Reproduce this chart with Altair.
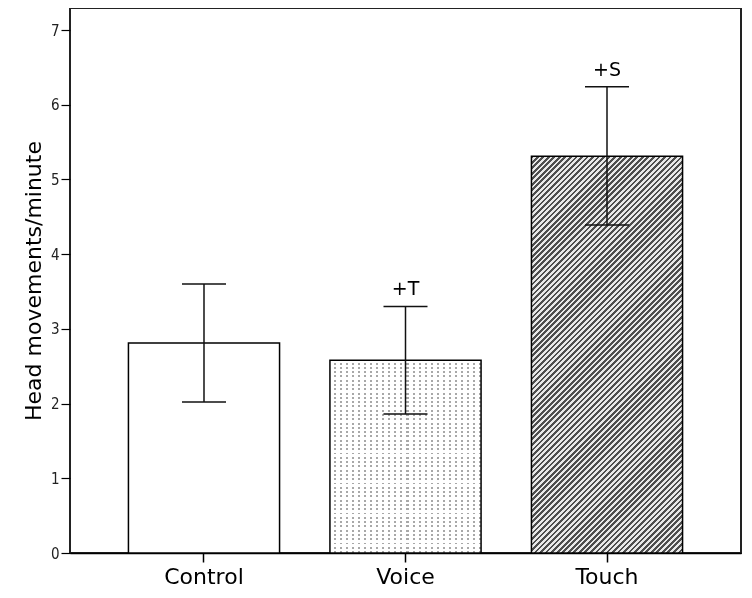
import math
import altair as alt
import pandas as pd

# ---- data ----
groups = ["Control", "Voice", "Touch"]
means = [2.81, 2.58, 5.31]
lower = [2.02, 1.86, 4.39]
upper = [3.60, 3.30, 6.24]
sig_labels = ["", "+T", "+S"]
y_ticks = [0, 1, 2, 3, 4, 5, 6, 7]

df = pd.DataFrame({"group": groups, "mean": means, "lower": lower,
                   "upper": upper, "label": sig_labels})

# ---- layout ----
W, H = 671, 545
YMAX = 7.295
P_IN, P_OUT = 0.25, 0.29
step = W / (len(groups) - P_IN + 2 * P_OUT)
bar_w = step * (1 - P_IN)


def stripe_gradient(n, c1, c2, frac, x1, y1, x2, y2):
    stops = []
    for k in range(n):
        a = k / n
        b = (k + frac) / n
        c = (k + 1) / n
        stops += [{"offset": a, "color": c1}, {"offset": b, "color": c1},
                  {"offset": b, "color": c2}, {"offset": c, "color": c2}]
    return {"gradient": "linear", "x1": x1, "y1": y1, "x2": x2, "y2": y2,
            "stops": stops}


# Touch: diagonal "/" hatching
th = means[2] / YMAX * H
p, q = 1 / th, 1 / bar_w
s = (p + q) / (p * p + q * q)
n_hatch = int(round(((bar_w + th) / math.sqrt(2)) / 3.9))
hatch = stripe_gradient(n_hatch, "#4d4d4d", "#e8e8e8", 0.5, 0, 0, s * p, s * q)

# Voice: dotted pattern = vertical columns ∩ horizontal rows (lighten blend)
vh = means[1] / YMAX * H
cols = stripe_gradient(int(round(bar_w / 6)), "#ffffff", "#a8a8a8", 0.66, 0, 0, 1, 0)
rows = stripe_gradient(int(round(vh / 4.3)), "#ffffff", "#000000", 0.55, 0, 0, 0, 1)

FONT = "DejaVu Sans"
TICK_FONT = "DejaVu Sans Condensed, Liberation Sans Narrow, DejaVu Sans"

x_enc = alt.X("group:N", sort=groups,
              scale=alt.Scale(domain=groups, paddingInner=P_IN, paddingOuter=P_OUT),
              axis=alt.Axis(title=None, labelAngle=0, labelFontSize=22, labelFont=FONT,
                            labelColor="black", tickSize=9, tickColor="black",
                            tickWidth=1.5, labelPadding=4, domainColor="black",
                            domainWidth=1.5, grid=False))

Y_TITLE = "Head movements/minute"


def y_enc(field):
    return alt.Y(field, title=Y_TITLE,
                 scale=alt.Scale(domain=[0, YMAX], nice=False, zero=True),
                 axis=alt.Axis(values=y_ticks, grid=False, domain=False,
                               tickSize=9, tickColor="black", tickWidth=1.2,
                               labelFontSize=15, labelFont=TICK_FONT,
                               labelColor="#222", labelPadding=2,
                               titleFontSize=22, titleFont=FONT,
                               titleFontWeight="normal", titleColor="black",
                               titleAngle=-90, titleX=-30, titleY=H / 2,
                               titleAlign="center", titleBaseline="alphabetic"))


base = alt.Chart(df).encode(x=x_enc, y=y_enc("mean:Q"))

control = base.transform_filter(alt.datum.group == "Control").mark_bar(fill="white")
voice1 = base.transform_filter(alt.datum.group == "Voice").mark_bar(fill=cols)
voice2 = base.transform_filter(alt.datum.group == "Voice").mark_bar(fill=rows, blend="lighten")
touch = base.transform_filter(alt.datum.group == "Touch").mark_bar(fill=hatch)
outline = base.mark_bar(fillOpacity=0, stroke="black", strokeWidth=1.5)

err = alt.Chart(df).mark_rule(color="#111111", strokeWidth=1.5).encode(
    x=x_enc, y=y_enc("lower:Q"), y2="upper:Q")
cap_lo = alt.Chart(df).mark_tick(size=44, thickness=1.5, color="#111111", opacity=1).encode(
    x=x_enc, y=y_enc("lower:Q"))
cap_hi = alt.Chart(df).mark_tick(size=44, thickness=1.5, color="#111111", opacity=1).encode(
    x=x_enc, y=y_enc("upper:Q"))
sig = alt.Chart(df).mark_text(dy=-11, baseline="alphabetic", fontSize=19, font=FONT,
                              color="black").encode(
    x=x_enc, y=y_enc("upper:Q"), text="label:N")

chart = alt.layer(control, voice1, voice2, touch, outline, err, cap_lo, cap_hi, sig).properties(
    width=W, height=H,
    autosize=alt.AutoSizeParams(type="none"),
    padding={"left": 62, "top": 0, "right": 3, "bottom": 40},
    background="white",
).configure_view(stroke="#222222", strokeWidth=2)

chart.save("out.html", embed_options={"renderer": "svg", "actions": False})
